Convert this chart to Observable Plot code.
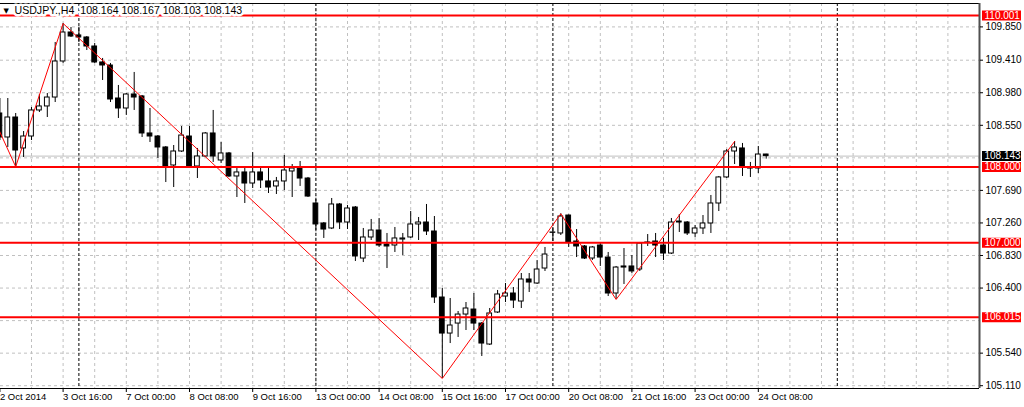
<!DOCTYPE html>
<html><head><meta charset="utf-8">
<script src="https://cdn.jsdelivr.net/npm/d3@7"></script>
<script src="https://cdn.jsdelivr.net/npm/@observablehq/plot@0.6"></script>
<style>html,body{margin:0;padding:0;background:#fff;overflow:hidden}</style>
</head><body><div id="chart"></div>
<script>
// ---- data (USDJPY., H4) ----
const symbolName = "USDJPY.,H4";
const barIndex = [-1,0,1,2,3,4,5,6,7,8,9,10,11,12,13,14,15,16,17,18,19,20,21,22,23,24,25,26,27,28,29,30,31,32,33,34,35,36,37,38,39,40,41,42,43,44,45,46,47,48,49,50,51,52,53,54,55,56,57,58,59,60,61,62,63,64,65,66,67,68,69,70,71,72,73,74,75,76,77,78,79,80,81,82,83,84,85,86,87,88,89,90,91,92,93,94,95,96];
const opens = [108.706,108.389,108.653,108.244,108.402,108.746,108.799,108.917,109.393,109.776,109.737,109.710,109.591,109.380,109.340,108.904,108.772,108.957,108.931,108.442,108.402,108.257,108.019,108.204,108.402,108.006,108.138,108.442,108.085,108.178,107.874,107.927,107.781,107.927,107.808,107.742,107.808,107.940,107.979,107.847,107.517,107.253,107.187,107.504,107.266,107.464,106.790,107.068,107.160,106.975,106.962,107.041,107.068,107.240,107.266,107.147,106.275,105.799,105.931,106.050,106.116,105.931,105.654,106.077,106.288,106.328,106.222,106.513,106.460,106.658,107.134,107.121,107.358,107.015,106.949,106.790,106.962,106.803,106.328,106.685,106.685,106.645,107.002,107.015,106.962,106.856,107.279,107.266,107.121,107.187,107.253,107.517,107.861,108.204,108.244,107.993,107.979,108.164];
const highs = [108.904,108.904,108.706,108.468,108.785,108.957,108.970,109.644,109.895,109.842,109.842,109.723,109.631,109.433,109.367,109.076,108.970,109.248,108.944,108.772,108.415,108.270,108.283,108.534,108.534,108.244,108.455,108.746,108.323,108.191,107.979,107.979,108.191,107.979,107.979,107.861,108.151,108.032,108.072,107.861,107.570,107.266,107.583,107.517,107.491,107.477,107.187,107.306,107.319,107.121,107.200,107.121,107.411,107.332,107.504,107.345,106.394,106.262,106.090,106.209,106.328,105.945,106.130,106.368,106.460,106.407,106.592,106.592,106.764,106.936,107.200,107.381,107.365,107.173,106.962,106.949,106.988,106.870,106.685,106.922,106.830,107.002,107.107,107.121,107.055,107.319,107.372,107.279,107.226,107.358,107.623,107.874,108.230,108.336,108.310,108.059,108.270,108.167];
const lows = [108.349,108.257,108.003,108.125,108.349,108.719,108.653,108.851,109.367,109.710,109.644,109.538,109.367,109.142,108.851,108.640,108.680,108.746,108.389,108.323,108.112,107.794,107.728,108.191,107.979,107.847,108.125,108.059,108.045,107.861,107.596,107.517,107.715,107.715,107.649,107.636,107.689,107.596,107.742,107.596,107.160,107.055,107.173,107.173,107.173,106.751,106.737,107.028,106.936,106.658,106.870,106.830,107.055,107.028,107.094,106.196,105.205,105.667,105.747,105.839,105.839,105.496,105.641,106.064,106.209,106.130,106.130,106.341,106.447,106.619,107.015,107.094,106.936,106.803,106.777,106.764,106.685,106.288,106.249,106.447,106.592,106.619,106.949,106.803,106.764,106.843,107.134,107.094,107.068,107.107,107.121,107.411,107.847,108.032,107.874,107.861,107.913,108.103];
const closes = [108.389,108.653,108.217,108.402,108.746,108.799,108.917,109.393,109.776,109.723,109.710,109.591,109.380,109.340,108.891,108.772,108.957,108.917,108.442,108.402,108.257,108.006,108.204,108.415,108.006,108.138,108.442,108.138,108.178,107.874,107.927,107.781,107.927,107.821,107.728,107.808,107.953,107.979,107.847,107.609,107.240,107.173,107.504,107.266,107.451,106.817,107.068,107.160,106.962,106.949,107.055,107.055,107.240,107.266,107.147,106.275,105.799,105.905,106.050,106.130,105.931,105.667,106.064,106.315,106.328,106.235,106.513,106.473,106.645,106.843,107.130,107.345,107.002,106.949,106.790,106.936,106.803,106.328,106.671,106.671,106.619,106.988,106.995,106.962,106.856,107.266,107.266,107.121,107.187,107.253,107.517,107.861,108.204,108.257,107.993,107.979,108.164,108.143];

// zigzag pivots
const zigzagBars = [-3, 1, 7, 55, 70, 77, 92];
const zigzagPrices = [108.917, 108.003, 109.895, 105.205, 107.381, 106.249, 108.336];

// horizontal levels
const levelPrices = [110.001, 108.000, 107.000, 106.015];
const bidPrice = 108.143;

// price grid and visible price labels
const priceGrid = [109.850, 109.410, 108.980, 108.550, 108.120, 107.690, 107.260, 106.830, 106.400, 105.970, 105.540, 105.110];
const priceLabels = [109.850, 109.410, 108.980, 108.550, 107.690, 107.260, 106.830, 106.400, 105.540, 105.110];

// time axis
const timeTickBars = [-1, 7, 15, 23, 31, 39, 47, 55, 63, 71, 79, 87, 95];
const timeTickLabels = ["2 Oct 2014","3 Oct 16:00","7 Oct 00:00","8 Oct 08:00","9 Oct 16:00","13 Oct 00:00","14 Oct 08:00","15 Oct 16:00","17 Oct 00:00","20 Oct 08:00","21 Oct 16:00","23 Oct 00:00","24 Oct 08:00"];
const weekSeparatorBars = [9, 39, 69, 105];

// ---- build ----
const candles = barIndex.map((i, k) => ({i, o: opens[k], h: highs[k], l: lows[k], c: closes[k]}));
const zigzag = zigzagBars.map((i, k) => ({i, p: zigzagPrices[k]}));
const labelOf = new Map(timeTickBars.map((b, k) => [b, timeTickLabels[k]]));
const last = candles[candles.length - 1];
const fmt = d => d.toFixed(3);
const title = `${symbolName}  ${fmt(last.o)} ${fmt(last.h)} ${fmt(last.l)} ${fmt(last.c)}`;
const gridBars = d3.range(3, 124, 4);

const W = 1024, H = 407, mR = 45, mT = 3, mB = 19;
const frameW = W - mR;
const xDomain = [-0.924, 123.0];
const yDomain = [105.073, 110.159];

const chart = Plot.plot({
  width: W, height: H,
  marginLeft: 0, marginRight: mR, marginTop: mT, marginBottom: mB,
  style: {fontFamily: "'Liberation Sans', Arial, sans-serif", fontSize: "9.5px", background: "#fff", color: "#000"},
  x: {type: "linear", domain: xDomain, axis: null, label: null},
  y: {type: "linear", domain: yDomain, axis: null, label: null},
  marks: [
    Plot.ruleY(priceGrid, {stroke: "#c0c0c0", strokeDasharray: "3,3"}),
    Plot.ruleX(gridBars, {stroke: "#c0c0c0", strokeDasharray: "3,3"}),
    Plot.ruleX(weekSeparatorBars, {stroke: "#000", strokeDasharray: "3,2"}),
    Plot.ruleY([bidPrice], {stroke: "#c0c0c0"}),
    Plot.ruleX(candles, {x: "i", y1: "l", y2: "h", stroke: "#000"}),
    Plot.rect(candles, {x1: d => d.i - 0.3, x2: d => d.i + 0.3, y1: "o", y2: "c",
      fill: d => d.c >= d.o ? "#fff" : "#000", stroke: "#000"}),
    Plot.ruleY(levelPrices, {stroke: "#ff0000", strokeWidth: 2}),
    Plot.line(zigzag, {x: "i", y: "p", stroke: "#ff0000", strokeWidth: 1, clip: true}),
    // chart border (top, bottom, right)
    Plot.ruleY([yDomain[1], yDomain[0]], {stroke: "#000"}),
    Plot.ruleX([xDomain[1]], {stroke: "#505050", strokeWidth: 2}),
    Plot.axisY(priceLabels, {anchor: "right", tickSize: 3, tickPadding: 3, tickFormat: fmt, textAnchor: "start", fontSize: 10}),
    Plot.ruleY(levelPrices, {stroke: "#ff0000", strokeWidth: 10, insetLeft: frameW + 3, insetRight: -42}),
    Plot.ruleY([bidPrice], {stroke: "#000", strokeWidth: 10, insetLeft: frameW + 3, insetRight: -42}),
    Plot.text(levelPrices, {y: d => d, text: fmt, frameAnchor: "right", textAnchor: "start", dx: 5, fill: "#fff", fontSize: 10}),
    Plot.text([bidPrice], {y: d => d, text: fmt, frameAnchor: "right", textAnchor: "start", dx: 5, fill: "#fff", fontSize: 10}),
    Plot.axisX(timeTickBars, {anchor: "bottom", tickSize: 4, tickPadding: 1, tickFormat: d => labelOf.get(d), textAnchor: "start"}),
    Plot.text([title], {frameAnchor: "top-left", dx: 14, dy: 3, lineAnchor: "top", textAnchor: "start",
      fill: "#000", stroke: "#fff", strokeWidth: 5, fontSize: 10.6}),
    Plot.text(["▼"], {frameAnchor: "top-left", dx: 3, dy: 5, lineAnchor: "top", textAnchor: "start",
      fill: "#000", fontSize: 7, fontFamily: "DejaVu Sans"})
  ]
});
document.getElementById("chart").appendChild(chart);
</script>
</body></html>
